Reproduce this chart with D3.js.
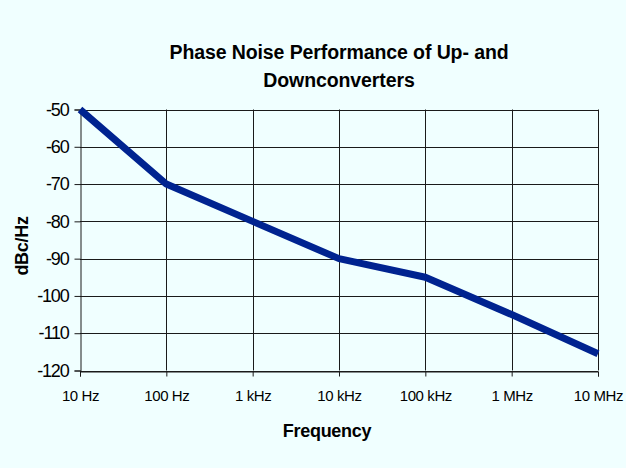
<!DOCTYPE html>
<html>
<head>
<meta charset="utf-8">
<script src="https://cdn.jsdelivr.net/npm/d3@7"></script>
<style>
  body { margin: 0; background: #f0ffff; }
  svg { display: block; }
  text { font-family: "Liberation Sans", Arial, sans-serif; fill: #000; }
</style>
</head>
<body>
<svg></svg>
<script>
// Frequency points (Hz) and phase noise values (dBc/Hz)
const frequencies = [10, 100, 1e3, 1e4, 1e5, 1e6, 1e7]
const freqLabels = ["10 Hz", "100 Hz", "1 kHz", "10 kHz", "100 kHz", "1 MHz", "10 MHz"]
const noiseValues = [-50, -70, -80, -90, -95, -105, -115.5]
const yTicks = [-50, -60, -70, -80, -90, -100, -110, -120]

const width = 626
const height = 468
const margin = { top: 109.5, right: 28, bottom: 97.5, left: 80 }
const font = '"Liberation Sans", Arial, sans-serif'

const svg = d3.select('svg')
    .attr("width", width)
    .attr("height", height)

svg.append('rect')
    .attr('width', width)
    .attr('height', height)
    .attr('fill', '#f0ffff')

// log scale on x, one gridline per decade
const x = d3.scaleLog()
    .domain([10, 1e7])
    .range([margin.left, width - margin.right])

const y = d3.scaleLinear()
    .domain([-120, -50])
    .range([height - margin.bottom, margin.top])

// horizontal gridlines
svg.append('g')
    .selectAll('line')
    .data(yTicks)
    .join('line')
    .attr('x1', margin.left)
    .attr('x2', width - margin.right)
    .attr('y1', d => Math.round(y(d)) + 0.5)
    .attr('y2', d => Math.round(y(d)) + 0.5)
    .attr('stroke', '#1a1a1a')

// vertical gridlines
svg.append('g')
    .selectAll('line')
    .data(frequencies.slice(1))
    .join('line')
    .attr('x1', d => Math.round(x(d)) + 0.5)
    .attr('x2', d => Math.round(x(d)) + 0.5)
    .attr('y1', margin.top)
    .attr('y2', height - margin.bottom)
    .attr('stroke', '#1a1a1a')

// y axis, labels use a plain hyphen like the original
const yAxis = svg.append('g')
    .attr('transform', `translate(${Math.round(margin.left) + 0.5},0)`)
    .call(d3.axisLeft(y).tickValues(yTicks).tickSize(6).tickPadding(6).tickFormat(d => String(d)))
yAxis.select('.domain').attr('stroke', '#1a1a1a')
yAxis.selectAll('.tick line').attr('stroke', '#1a1a1a')
yAxis.selectAll('text')
    .attr('font-size', 18)
    .attr('font-family', font)
    .attr('letter-spacing', -1.2)

// x axis
const xAxis = svg.append('g')
    .attr('transform', `translate(0,${Math.round(height - margin.bottom) + 0.5})`)
    .call(d3.axisBottom(x).tickValues(frequencies).tickSize(5).tickPadding(14)
        .tickFormat((d, i) => freqLabels[i]))
xAxis.select('.domain').attr('stroke', '#1a1a1a')
xAxis.selectAll('.tick line').attr('stroke', '#1a1a1a')
xAxis.selectAll('text')
    .attr('font-size', 15)
    .attr('font-family', font)
    .attr('letter-spacing', -0.4)

// the data line
const line = d3.line()
    .x((d, i) => x(frequencies[i]))
    .y(d => y(d))

svg.append('path')
    .datum(noiseValues)
    .attr('d', line)
    .attr('fill', 'none')
    .attr('stroke', '#002390')
    .attr('stroke-width', 7)
    .attr('stroke-linejoin', 'round')

// titles
const cx = (margin.left + width - margin.right) / 2
svg.append('text')
    .attr('x', cx)
    .attr('y', 59)
    .attr('text-anchor', 'middle')
    .attr('font-size', 19.5)
    .attr('font-weight', 'bold')
    .attr('letter-spacing', -0.1)
    .text('Phase Noise Performance of Up- and')
svg.append('text')
    .attr('x', cx)
    .attr('y', 87)
    .attr('text-anchor', 'middle')
    .attr('font-size', 19.5)
    .attr('font-weight', 'bold')
    .attr('letter-spacing', -0.1)
    .text('Downconverters')

svg.append('text')
    .attr('x', 327)
    .attr('y', 437)
    .attr('text-anchor', 'middle')
    .attr('font-size', 18)
    .attr('font-weight', 'bold')
    .attr('letter-spacing', -0.3)
    .text('Frequency')

svg.append('text')
    .attr('transform', `translate(28,246) rotate(-90)`)
    .attr('text-anchor', 'middle')
    .attr('font-size', 18)
    .attr('font-weight', 'bold')
    .attr('letter-spacing', -0.3)
    .text('dBc/Hz')
</script>
</body>
</html>
